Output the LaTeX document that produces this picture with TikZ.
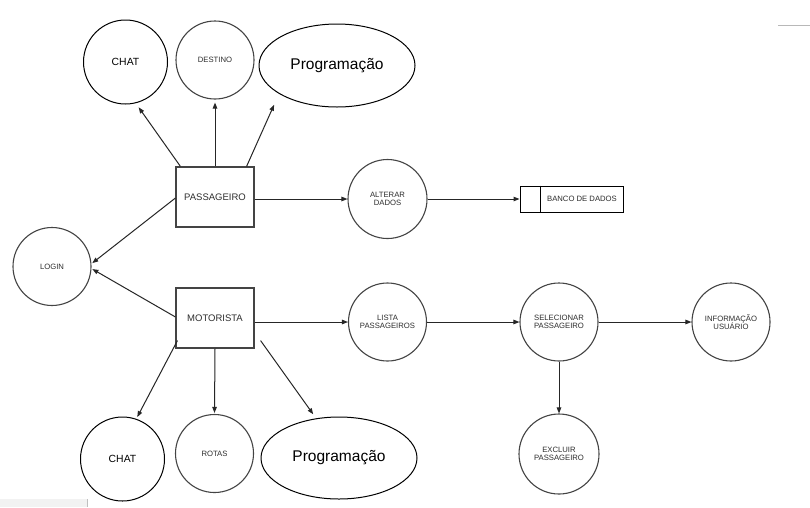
\documentclass[tikz,border=0pt]{standalone}
\usepackage{fontspec}
\setmainfont{Liberation Sans}
\usetikzlibrary{shapes.geometric,arrows.meta,calc}
\definecolor{lucidline}{HTML}{444444}
\definecolor{lucidtext}{HTML}{2E2E2E}
\begin{document}
\begin{tikzpicture}[x=1pt,y=-1pt,
  proc/.style={circle,draw=lucidline,line width=1.1pt,inner sep=0pt,minimum size=78pt,
    text=lucidtext,font=\fontsize{7.7}{8.6}\selectfont,align=center},
  bigcirc/.style={circle,draw=black,line width=1pt,inner sep=0pt,minimum size=84pt,
    font=\fontsize{10.4}{12}\selectfont},
  bigell/.style={ellipse,draw=black,line width=1pt,inner sep=0pt,minimum width=156pt,
    minimum height=83pt,font=\fontsize{15.5}{18}\selectfont},
  actor/.style={rectangle,draw=lucidline,line width=1.1pt,minimum width=78pt,minimum height=60pt,
    text=lucidtext,font=\fontsize{9.5}{11}\selectfont},
  store/.style={rectangle,draw=black,line width=1pt,minimum width=103pt,minimum height=26pt,
    inner sep=0pt,text=lucidtext,font=\fontsize{7.7}{9}\selectfont},
  arr/.style={draw=black!85,line width=1pt,-{Triangle[length=6pt,width=4.5pt]}}]
\useasboundingbox (0,0) rectangle (810,507);
\fill[white] (0,0) rectangle (810,507);
% screenshot remnants
\fill[black!5] (0,499) rectangle (87,507);
\draw[black!25,line width=0.8pt] (87,499) -- (87,507);
\draw[black!28,line width=1pt] (778,25) -- (810,25);

% nodes
\node[bigcirc] (chat1) at (125.5,62) {CHAT};
\node[proc] (destino) at (215,60) {DESTINO};
\node[bigell] (prog1) at (337,65.5) {Programação};
\node[actor] (pass) at (215,197) {PASSAGEIRO};
\node[proc,minimum size=79pt] (alt) at (387.5,199) {ALTERAR\\DADOS};
\node[store] (banco) at (571.5,199) {\hspace*{21pt}BANCO DE DADOS};
\draw[black,line width=1pt] ($(banco.north west)+(21,0)$) -- ($(banco.south west)+(21,0)$);
\node[proc] (login) at (52,266.5) {LOGIN};
\node[actor] (mot) at (215,318) {MOTORISTA};
\node[proc] (lista) at (387.5,322) {LISTA\\PASSAGEIROS};
\node[proc] (sel) at (559,322) {SELECIONAR\\PASSAGEIRO};
\node[proc] (info) at (731,322) {INFORMAÇÃO\\USUÁRIO};
\node[proc,minimum size=80pt] (excl) at (559,454) {EXCLUIR\\PASSAGEIRO};
\node[bigcirc] (chat2) at (122.5,459) {CHAT};
\node[proc] (rotas) at (214.5,453.5) {ROTAS};
\node[bigell,minimum height=82pt] (prog2) at (339,458) {Programação};

% connectors
\draw[arr,shorten >=5pt] ($(pass.north west)+(5,0)$) -- (chat1.-76);
\draw[arr,shorten >=3pt] (pass.north) -- (destino.south);
\draw[arr,shorten >=12pt] ($(pass.north east)+(-8,0)$) -- (prog1.206);
\draw[arr] (pass.east |- alt.west) -- (alt.west);
\draw[arr] (alt.east) -- (banco.west);
\draw[arr,shorten >=1pt] ($(pass.west)+(0,1)$) -- (login.4);
\draw[arr,shorten >=1pt] ($(mot.west)+(0,-1)$) -- (login.-3);
\draw[arr,shorten >=2pt] ($(mot.south west)+(2,-8)$) -- (chat2.71);
\draw[arr,shorten >=1pt] (mot.south) -- (rotas.north);
\draw[arr,shorten >=5pt] ($(mot.south east)+(6,-8)$) -- (prog2.120);
\draw[arr] (mot.east |- lista.west) -- (lista.west);
\draw[arr] (lista.east) -- (sel.west);
\draw[arr] (sel.east) -- (info.west);
\draw[arr] (sel.south) -- (excl.north);
\end{tikzpicture}
\end{document}
